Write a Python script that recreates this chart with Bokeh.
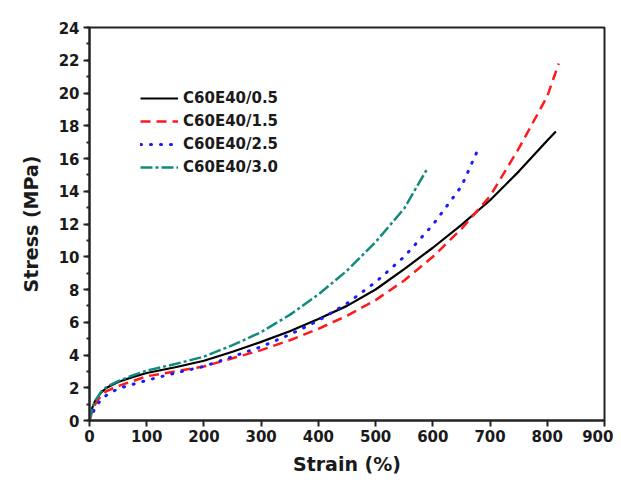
from bokeh.plotting import figure
from bokeh.models import Range1d, SingleIntervalTicker, Legend, LegendItem
from bokeh.embed import file_html
from bokeh.resources import INLINE

# ---- data ----
strain_05 = [0, 5, 10, 20, 30, 50, 75, 100, 150, 200, 250, 300, 350, 400, 450, 500, 550, 600, 650, 700, 750, 800, 815]
stress_05 = [0, 0.8, 1.2, 1.7, 2.0, 2.35, 2.65, 2.9, 3.25, 3.65, 4.2, 4.8, 5.45, 6.2, 7.0, 8.0, 9.25, 10.55, 11.95, 13.45, 15.2, 17.1, 17.65]

strain_15 = [0, 5, 10, 20, 30, 50, 75, 100, 150, 200, 250, 300, 350, 400, 450, 500, 550, 600, 650, 700, 750, 800, 820]
stress_15 = [0, 0.6, 1.0, 1.5, 1.8, 2.1, 2.4, 2.7, 3.0, 3.3, 3.8, 4.3, 4.9, 5.6, 6.4, 7.35, 8.55, 10.0, 11.7, 13.7, 16.6, 19.8, 21.8]

strain_25 = [0, 5, 10, 20, 30, 50, 75, 100, 150, 200, 250, 300, 350, 400, 450, 500, 550, 600, 650, 677]
stress_25 = [0, 0.4, 0.8, 1.25, 1.55, 1.95, 2.2, 2.45, 2.9, 3.3, 3.9, 4.5, 5.25, 6.1, 7.15, 8.45, 10.0, 11.95, 14.3, 16.4]

strain_30 = [0, 5, 10, 20, 30, 50, 75, 100, 150, 200, 250, 300, 350, 400, 450, 500, 550, 589]
stress_30 = [0, 0.8, 1.2, 1.75, 2.05, 2.4, 2.75, 3.05, 3.45, 3.9, 4.6, 5.4, 6.45, 7.7, 9.15, 10.9, 12.95, 15.3]

labels = ["C60E40/0.5", "C60E40/1.5", "C60E40/2.5", "C60E40/3.0"]

FONT = "DejaVu Sans"

p = figure(width=613, height=480, output_backend="svg", toolbar_location=None,
           x_range=Range1d(0, 900), y_range=Range1d(0, 24),
           min_border_left=89, min_border_right=9, min_border_top=27, min_border_bottom=60)
p.background_fill_color = "white"
p.border_fill_color = "white"
p.grid.visible = False
p.outline_line_color = "#222222"
p.outline_line_width = 2

p.xaxis.ticker = SingleIntervalTicker(interval=100, num_minor_ticks=0)
p.yaxis.ticker = SingleIntervalTicker(interval=2, num_minor_ticks=2)

for ax in (p.xaxis[0], p.yaxis[0]):
    ax.axis_line_width = 2
    ax.axis_line_color = "#222222"
    ax.major_tick_line_width = 2
    ax.major_tick_line_color = "#222222"
    ax.minor_tick_line_width = 2
    ax.minor_tick_line_color = "#222222"
    ax.major_tick_out = 6
    ax.major_tick_in = 0
    ax.minor_tick_out = 3
    ax.minor_tick_in = 0
    ax.major_label_text_font = FONT
    ax.major_label_text_font_style = "bold"
    ax.major_label_text_font_size = "15px"
    ax.major_label_text_color = "#1a1a1a"
    ax.axis_label_text_font = FONT
    ax.axis_label_text_font_style = "bold"
    ax.axis_label_text_font_size = "19px"
    ax.axis_label_text_color = "#1a1a1a"

p.xaxis.axis_label = "Strain (%)"
p.yaxis.axis_label = "Stress (MPa)"
p.xaxis.major_label_standoff = 3
p.xaxis.axis_label_standoff = 8
p.yaxis.major_label_standoff = 4
p.yaxis.axis_label_standoff = 14

r1 = p.line(strain_05, stress_05, line_color="black", line_width=2.2)
r2 = p.line(strain_15, stress_15, line_color="#ff1a1a", line_width=2.5, line_dash="10 6")
r3 = p.line(strain_25, stress_25, line_color="#1a1aff", line_width=3, line_dash="1 9", line_cap="round")
r4 = p.line(strain_30, stress_30, line_color="#138a80", line_width=2.5, line_dash="12 3 3 3")

legend = Legend(items=[LegendItem(label=labels[0], renderers=[r1]),
                       LegendItem(label=labels[1], renderers=[r2]),
                       LegendItem(label=labels[2], renderers=[r3]),
                       LegendItem(label=labels[3], renderers=[r4])],
                location=(51, 243))
legend.label_text_font = FONT
legend.label_text_font_style = "bold"
legend.label_text_font_size = "15px"
legend.label_text_color = "#1a1a1a"
legend.glyph_width = 38
legend.glyph_height = 20
legend.label_height = 20
legend.label_standoff = 5
legend.spacing = 3
legend.padding = 0
legend.margin = 0
legend.border_line_color = None
legend.background_fill_alpha = 0
p.add_layout(legend, "center")

open("out.html", "w").write(file_html(p, INLINE))
